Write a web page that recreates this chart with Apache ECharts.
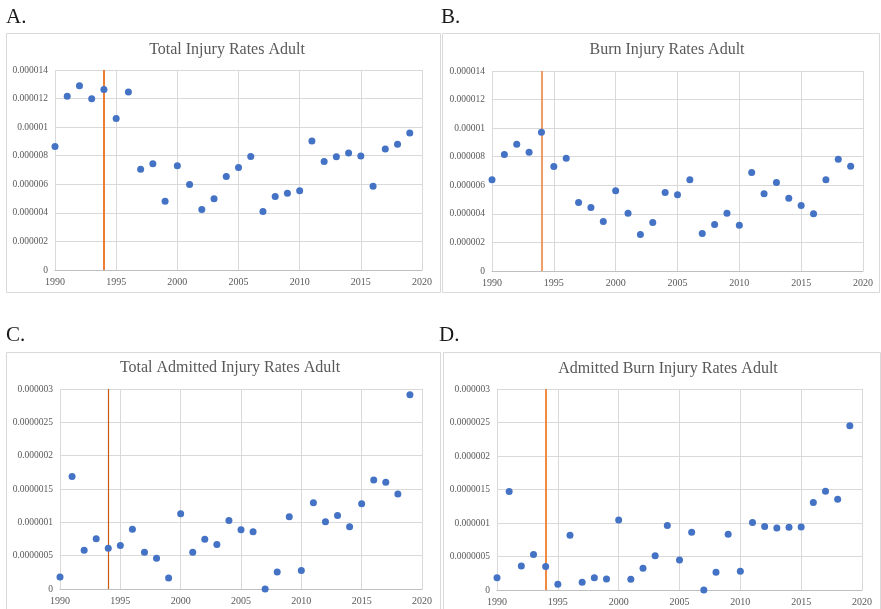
<!DOCTYPE html>
<html>
<head>
<meta charset="utf-8">
<script src="https://cdn.jsdelivr.net/npm/echarts@6/dist/echarts.min.js"></script>
<style>
html,body{margin:0;padding:0;background:#fff;}
#c{width:881px;height:609px;}
</style>
</head>
<body>
<div id="c"></div>
<script>
// ---- data ----
const years = [1990,1991,1992,1993,1994,1995,1996,1997,1998,1999,2000,2001,2002,2003,2004,2005,2006,2007,2008,2009,2010,2011,2012,2013,2014,2015,2016,2017,2018,2019];
const totalInjury = [8.65e-6,12.16e-6,12.89e-6,11.98e-6,12.63e-6,10.6e-6,12.46e-6,7.06e-6,7.44e-6,4.82e-6,7.30e-6,5.99e-6,4.23e-6,4.98e-6,6.55e-6,7.18e-6,7.95e-6,4.09e-6,5.15e-6,5.38e-6,5.54e-6,9.03e-6,7.60e-6,7.93e-6,8.19e-6,7.98e-6,5.87e-6,8.47e-6,8.80e-6,9.59e-6];
const burnInjury = [6.38e-6,8.15e-6,8.87e-6,8.31e-6,9.71e-6,7.31e-6,7.89e-6,4.79e-6,4.44e-6,3.46e-6,5.62e-6,4.04e-6,2.55e-6,3.39e-6,5.49e-6,5.33e-6,6.38e-6,2.62e-6,3.25e-6,4.04e-6,3.21e-6,6.90e-6,5.41e-6,6.20e-6,5.10e-6,4.59e-6,4.01e-6,6.38e-6,7.83e-6,7.34e-6];
const totalAdmitted = [0.181e-6,1.686e-6,0.582e-6,0.753e-6,0.612e-6,0.652e-6,0.898e-6,0.552e-6,0.462e-6,0.166e-6,1.129e-6,0.552e-6,0.748e-6,0.667e-6,1.029e-6,0.888e-6,0.858e-6,0,0.256e-6,1.084e-6,0.276e-6,1.295e-6,1.009e-6,1.104e-6,0.933e-6,1.279e-6,1.636e-6,1.601e-6,1.425e-6,2.915e-6];
const admittedBurn = [0.184e-6,1.470e-6,0.359e-6,0.528e-6,0.349e-6,0.085e-6,0.817e-6,0.115e-6,0.184e-6,0.164e-6,1.046e-6,0.159e-6,0.324e-6,0.513e-6,0.962e-6,0.448e-6,0.862e-6,0,0.264e-6,0.832e-6,0.279e-6,1.006e-6,0.947e-6,0.927e-6,0.937e-6,0.942e-6,1.305e-6,1.475e-6,1.355e-6,2.451e-6];
const titles = ['Total Injury Rates Adult','Burn Injury Rates Adult','Total Admitted Injury Rates Adult','Admitted Burn Injury Rates Adult'];
const panelLetters = ['A.','B.','C.','D.'];
const markerYear = 1994;
const xRange = [1990, 2020, 5];
const yMaxes = [0.000014, 0.000014, 0.000003, 0.000003];
const yIntervals = [0.000002, 0.000002, 0.0000005, 0.0000005];

// ---- layout ----
const FONT = '"Liberation Serif","Times New Roman",serif';
const grids = [
  {left:55, top:70, width:367, height:200},
  {left:492, top:71, width:371, height:200},
  {left:60, top:389, width:362, height:200},
  {left:497, top:389, width:365, height:201}
];
const titlePos = [[227,50],[667,50],[230,368],[668,369]];
const letterPos = [[6,17],[441,17],[6,335],[439,335]];
const vlineStyles = [
  {color:'#ED7D31', width:2},
  {color:'#ED7D31', width:1.5},
  {color:'#C55A11', width:1.2},
  {color:'#F08A45', width:2}
];
const seriesData = [totalInjury, burnInjury, totalAdmitted, admittedBurn];

const fmtY = v => {
  if (v === 0) return '0';
  let s = v.toFixed(7);
  s = s.replace(/0+$/, '').replace(/\.$/, '');
  return s;
};
const fmtX = v => String(Math.round(v));

const option = {
  animation:false,
  backgroundColor:'#fff',
  grid: grids.map(g => Object.assign({containLabel:false}, g)),
  xAxis: grids.map((g,i) => ({
    type:'value', gridIndex:i, min:xRange[0], max:xRange[1], interval:xRange[2],
    axisLine:{show:true, lineStyle:{color:'#BFBFBF', width:1}},
    axisTick:{show:false},
    axisLabel:{color:'#595959', fontFamily:FONT, fontSize:10, margin:7, showMinLabel:true, showMaxLabel:true, formatter:fmtX},
    splitLine:{show:true, lineStyle:{color:'#D9D9D9', width:1}}
  })),
  yAxis: grids.map((g,i) => ({
    type:'value', gridIndex:i, min:0, max:yMaxes[i], interval:yIntervals[i],
    axisLine:{show:false},
    axisTick:{show:false},
    axisLabel:{color:'#595959', fontFamily:FONT, fontSize:9.5, margin:7, formatter:fmtY},
    splitLine:{show:true, lineStyle:{color:'#D9D9D9', width:1}}
  })),
  series: seriesData.map((d,i) => ({
    type:'scatter', xAxisIndex:i, yAxisIndex:i,
    data: years.map((y,k) => [y, d[k]]),
    symbol:'circle', symbolSize:7,
    itemStyle:{color:'#4472C4', opacity:1},
    z:3,
    markLine:{
      silent:true, symbol:['none','none'], label:{show:false}, z:2,
      lineStyle:{color:vlineStyles[i].color, width:vlineStyles[i].width, type:'solid', opacity:1},
      emphasis:{disabled:true},
      data:[{xAxis:markerYear}]
    }
  })),
  graphic: [
    {type:'rect', shape:{x:6.5, y:33.5, width:434, height:259}, style:{fill:null, stroke:'#D9D9D9', lineWidth:1}, silent:true},
    {type:'rect', shape:{x:442.5, y:33.5, width:437, height:259}, style:{fill:null, stroke:'#D9D9D9', lineWidth:1}, silent:true},
    {type:'rect', shape:{x:6.5, y:352.5, width:434, height:270}, style:{fill:null, stroke:'#D9D9D9', lineWidth:1}, silent:true},
    {type:'rect', shape:{x:443.5, y:352.5, width:437, height:270}, style:{fill:null, stroke:'#D9D9D9', lineWidth:1}, silent:true}
  ].concat(titles.map((t,i) => ({
    type:'text', x:titlePos[i][0], y:titlePos[i][1], silent:true,
    style:{text:t, fill:'#595959', font:'16px ' + FONT, textAlign:'center', textVerticalAlign:'middle'}
  }))).concat(panelLetters.map((t,i) => ({
    type:'text', x:letterPos[i][0], y:letterPos[i][1], silent:true,
    style:{text:t, fill:'#1a1a1a', font:'21px ' + FONT, textAlign:'left', textVerticalAlign:'middle'}
  })))
};

const chart = echarts.init(document.getElementById('c'), null, {renderer:'canvas'});
chart.setOption(option);
</script>
</body>
</html>
